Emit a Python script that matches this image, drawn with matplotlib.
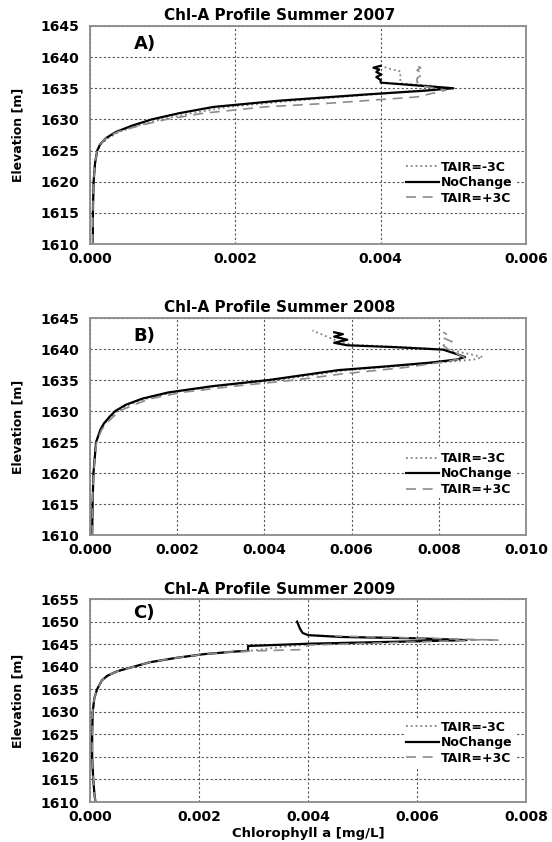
import matplotlib
matplotlib.use('Agg')
import matplotlib.pyplot as plt

# ---- Panel A : summer 2007 ----
elev_a_cold = [1610, 1615, 1620, 1623, 1625, 1626, 1627, 1628, 1629, 1630, 1631, 1632, 1633, 1634, 1634.6,
               1635.0, 1635.4, 1635.8, 1636.5, 1637.2, 1637.7, 1638.2, 1638.6]
chl_a_cold = [0.00004, 0.00004, 0.00005, 0.00007, 0.0001, 0.00015, 0.00025, 0.0004, 0.00066, 0.00098, 0.0014,
              0.0019, 0.0028, 0.0039, 0.0045, 0.0049, 0.0047, 0.00427, 0.00427, 0.00427, 0.00427, 0.0041, 0.0040]
elev_a_base = [1610, 1615, 1620, 1623, 1625, 1626, 1627, 1628, 1629, 1630, 1631, 1632, 1633, 1634, 1634.6,
               1635.0, 1635.9, 1636.3, 1636.8, 1637.2, 1637.6, 1638.0, 1638.3, 1638.6]
chl_a_base = [0.00004, 0.00004, 0.00005, 0.00007, 0.0001, 0.00014, 0.00022, 0.00036, 0.00058, 0.00085, 0.00123,
              0.0017, 0.0026, 0.0038, 0.0046, 0.0050, 0.0040, 0.0040, 0.00394, 0.00401, 0.00394, 0.00398, 0.0039, 0.0040]
elev_a_warm = [1610, 1615, 1620, 1623, 1625, 1626, 1627, 1628, 1629, 1630, 1631, 1632, 1632.6, 1633.6, 1634.7,
               1635.3, 1636.0, 1636.6, 1637.3, 1637.9, 1638.3, 1638.7]
chl_a_warm = [0.00004, 0.00004, 0.00005, 0.00007, 0.0001, 0.00014, 0.00022, 0.00038, 0.00068, 0.00105, 0.00157,
              0.0024, 0.0033, 0.0045, 0.0049, 0.0046, 0.0045, 0.0045, 0.00458, 0.0045, 0.00455, 0.00448]

# ---- Panel B : summer 2008 ----
elev_b_cold = [1610, 1615, 1620, 1625, 1627, 1628, 1629, 1630, 1631, 1632, 1633, 1634, 1635, 1636, 1636.6,
               1637.2, 1637.8, 1638.3, 1638.7, 1639.2, 1639.9, 1640.3, 1640.7, 1641.2, 1641.8, 1642.4, 1643.0]
chl_b_cold = [0.00005, 0.00006, 0.00008, 0.00014, 0.00025, 0.00034, 0.00047, 0.00062, 0.00088, 0.0013, 0.0019,
              0.0029, 0.0043, 0.0053, 0.0059, 0.0070, 0.0080, 0.0088, 0.0090, 0.0087, 0.0082, 0.0072, 0.0060,
              0.0057, 0.0055, 0.0053, 0.0051]
elev_b_base = [1610, 1615, 1620, 1625, 1627, 1628, 1629, 1630, 1631, 1632, 1633, 1634, 1635, 1636, 1636.6,
               1637.2, 1637.8, 1638.3, 1638.7, 1639.2, 1639.9, 1640.3, 1640.6, 1641.0, 1641.5, 1642.0, 1642.4, 1642.7]
chl_b_base = [0.00005, 0.00006, 0.00008, 0.00014, 0.00024, 0.00032, 0.00044, 0.00058, 0.00082, 0.0012, 0.0018,
              0.0028, 0.0041, 0.0051, 0.0057, 0.0068, 0.0078, 0.0084, 0.0086, 0.0084, 0.0081, 0.0070, 0.0059,
              0.0056, 0.0059, 0.0056, 0.0058, 0.0056]
elev_b_warm = [1610, 1615, 1620, 1625, 1627, 1628, 1629, 1630, 1631, 1632, 1633, 1634, 1635, 1636, 1637,
               1638, 1638.6, 1639.3, 1640, 1640.6, 1641.2, 1641.8, 1642.3, 1642.7]
chl_b_warm = [0.00005, 0.00006, 0.00008, 0.00015, 0.00027, 0.00038, 0.00052, 0.00068, 0.0010, 0.0014, 0.0021,
              0.0033, 0.0047, 0.0058, 0.0072, 0.0082, 0.0086, 0.0084, 0.0082, 0.0081, 0.0083, 0.0081, 0.0082, 0.0081]

# ---- Panel C : summer 2009 ----
elev_c_cold = [1610, 1612, 1615, 1620, 1625, 1630, 1633, 1635, 1637, 1638, 1639, 1640, 1641, 1642, 1642.8,
               1643.4, 1643.6, 1644.4, 1644.9, 1645.9, 1646.3, 1646.6, 1647.0]
chl_c_cold = [0.0001, 0.00008, 0.00006, 0.00004, 0.00004, 0.00005, 0.00008, 0.00013, 0.00022, 0.00032, 0.0005,
              0.0008, 0.0011, 0.0016, 0.0021, 0.0027, 0.0030, 0.0035, 0.0040, 0.0070, 0.0061, 0.0047, 0.0041]
elev_c_base = [1610, 1612, 1615, 1620, 1625, 1630, 1633, 1635, 1637, 1638, 1639, 1640, 1641, 1642, 1642.8,
               1643.4, 1643.5, 1644.6, 1645.1, 1645.9, 1646.3, 1646.6, 1647.0, 1647.5, 1648.5, 1650.0]
chl_c_base = [0.0001, 0.00008, 0.00006, 0.00004, 0.00004, 0.00005, 0.00008, 0.00013, 0.00022, 0.00032, 0.0005,
              0.0008, 0.0011, 0.0016, 0.0021, 0.0027, 0.0029, 0.0029, 0.0040, 0.0069, 0.0060, 0.0046, 0.0040,
              0.0039, 0.00385, 0.0038]
elev_c_warm = [1610, 1612, 1615, 1620, 1625, 1630, 1633, 1635, 1637, 1638, 1639, 1640, 1641, 1642, 1642.8,
               1643.4, 1643.6, 1643.8, 1644.8, 1645.8, 1646.0, 1645.9, 1646.3, 1646.8]
chl_c_warm = [0.0001, 0.00008, 0.00006, 0.00004, 0.00004, 0.00005, 0.00008, 0.00013, 0.00022, 0.00032, 0.0005,
              0.0008, 0.0011, 0.0016, 0.0021, 0.0027, 0.0033, 0.0039, 0.0040, 0.0068, 0.0072, 0.0075, 0.0062, 0.0045]

titles = ['Chl-A Profile Summer 2007', 'Chl-A Profile Summer 2008', 'Chl-A Profile Summer 2009']
panel_tags = ['A)', 'B)', 'C)']
x_maxes = [0.006, 0.010, 0.008]
y_tops = [1645, 1645, 1655]
labels = ['TAIR=-3C', 'NoChange', 'TAIR=+3C']

panels = [
    [(chl_a_cold, elev_a_cold), (chl_a_base, elev_a_base), (chl_a_warm, elev_a_warm)],
    [(chl_b_cold, elev_b_cold), (chl_b_base, elev_b_base), (chl_b_warm, elev_b_warm)],
    [(chl_c_cold, elev_c_cold), (chl_c_base, elev_c_base), (chl_c_warm, elev_c_warm)],
]

# line style per scenario
styles = [dict(color='#808080', linestyle=':', linewidth=1.3),
          dict(color='black', linestyle='-', linewidth=1.6),
          dict(color='#8c8c8c', linestyle=(0, (6, 4)), linewidth=1.2)]

rects = [[0.163, 0.7102, 0.790, 0.259],
         [0.163, 0.3646, 0.790, 0.2577],
         [0.163, 0.0475, 0.790, 0.241]]

fig = plt.figure(figsize=(5.52, 8.42), dpi=100)

for i in range(3):
    ax = fig.add_axes(rects[i])
    for (x, y), st, lab in zip(panels[i], styles, labels):
        ax.plot(x, y, label=lab, **st)

    ax.set_xlim(0, x_maxes[i])
    ax.set_ylim(1610, y_tops[i])
    ax.set_xticks([k * 0.002 for k in range(int(round(x_maxes[i] / 0.002)) + 1)])
    ax.set_yticks(range(1610, y_tops[i] + 1, 5))
    ax.set_xticklabels(['%.3f' % t for t in ax.get_xticks()])
    ax.tick_params(axis='y', length=0, labelsize=10, pad=8)
    ax.tick_params(axis='x', length=0, labelsize=10, pad=6)
    for t in ax.get_xticklabels() + ax.get_yticklabels():
        t.set_fontweight('bold')
    ax.grid(True, linestyle=(0, (2, 2)), color='#555555', linewidth=0.8)
    for s in ax.spines.values():
        s.set_color('#8a8a8a')
        s.set_linewidth(1.3)

    ax.set_title(titles[i], x=0.436, pad=4, fontsize=11, fontweight='bold')
    ax.text(0.10, 0.915 if i < 2 else 0.93, panel_tags[i], transform=ax.transAxes,
            fontsize=13, fontweight='bold', va='center')
    ax.set_ylabel('Elevation [m]', fontsize=9, fontweight='bold')
    ax.yaxis.set_label_coords(-0.15, 0.5)

    leg = ax.legend(loc='lower right', bbox_to_anchor=(0.99, 0.14), frameon=True, framealpha=1,
                    edgecolor='none', facecolor='white', fontsize=9, handlelength=2.6,
                    handletextpad=0.2, labelspacing=0.2, borderpad=0.2)
    for t in leg.get_texts():
        t.set_fontweight('bold')

    if i == 2:
        ax.set_xlabel('Chlorophyll a [mg/L]', fontsize=9.5, fontweight='bold')
        ax.xaxis.set_label_coords(0.5, -0.125)

fig.savefig('out.png', dpi=100)
